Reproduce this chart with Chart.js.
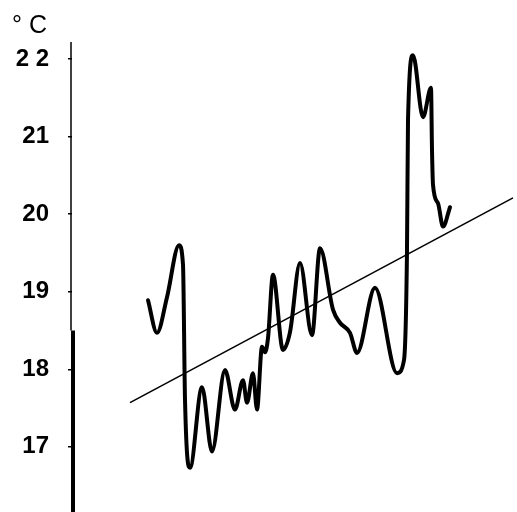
<!DOCTYPE html>
<html>
<head>
<meta charset="utf-8">
<script src="https://cdn.jsdelivr.net/npm/chart.js@4"></script>
<style>
  html, body { margin: 0; padding: 0; background: #fff; }
</style>
</head>
<body>
<canvas id="tempChart" width="517" height="512"></canvas>
<script>
// time along the record (arbitrary units) and temperature in °C
const timeSteps = [
  76, 85, 95, 107, 111, 113, 118, 130, 140, 153, 163, 171, 175, 181, 185,
  190, 193, 196, 201, 211, 218, 228, 240, 248, 261, 268, 278, 285, 303,
  325, 332, 335, 336, 341, 351, 359, 360, 361, 366, 371, 378,
];
const temps = [
  18.89, 18.47, 18.93, 19.6, 19.35, 17.61, 16.73, 17.77, 16.94, 17.99, 17.48,
  17.86, 17.57, 17.95, 17.48, 18.29, 18.22, 18.4, 19.22, 18.25, 18.48, 19.37,
  18.44, 19.56, 18.77, 18.6, 18.47, 18.21, 19.05, 17.95, 18.12, 19.54, 21.21,
  22.05, 21.25, 21.63, 20.83, 20.38, 20.14, 19.84, 20.09,
];

// linear trend
const trendTime = [58, 441];
const trendTemp = [17.57, 20.21];

const tickValues = [17, 18, 19, 20, 21, 22];
const tickLabels = ["17", "18", "19", "20", "21", "2 2"];

// the lower part of the axis is drawn heavier
const axisBreak = 18.5;

const axisLine = {
  id: "axisLine",
  afterDraw(chart) {
    const { ctx, chartArea, scales } = chart;
    const yBreak = scales.y.getPixelForValue(axisBreak);
    ctx.save();
    ctx.strokeStyle = "#000";
    ctx.lineWidth = 1.5;
    ctx.beginPath();
    ctx.moveTo(chartArea.left - 1, chartArea.top);
    ctx.lineTo(chartArea.left - 1, yBreak);
    ctx.stroke();
    ctx.lineWidth = 4;
    ctx.beginPath();
    ctx.moveTo(chartArea.left + 1, yBreak);
    ctx.lineTo(chartArea.left + 1, chartArea.bottom);
    ctx.stroke();
    ctx.restore();
  },
};

new Chart(document.getElementById("tempChart"), {
  type: "line",
  data: {
    datasets: [
      {
        label: "Temperature",
        data: timeSteps.map((t, i) => ({ x: t, y: temps[i] })),
        borderColor: "#000",
        borderWidth: 4,
        borderCapStyle: "round",
        borderJoinStyle: "round",
        cubicInterpolationMode: "monotone",
        pointRadius: 0,
      },
      {
        label: "Trend",
        data: trendTime.map((t, i) => ({ x: t, y: trendTemp[i] })),
        borderColor: "#000",
        borderWidth: 1.6,
        pointRadius: 0,
      },
    ],
  },
  options: {
    responsive: false,
    animation: false,
    devicePixelRatio: 1,
    layout: { padding: { left: 12 } },
    plugins: {
      legend: { display: false },
      tooltip: { enabled: false },
      title: {
        display: true,
        text: "° C",
        align: "start",
        color: "#000",
        font: { family: "Liberation Sans", size: 25, weight: "normal" },
        padding: { top: 11, bottom: 1 },
      },
    },
    scales: {
      x: {
        type: "linear",
        display: false,
        min: 0,
        max: 445,
      },
      y: {
        min: 16.16,
        max: 22.22,
        afterFit: (scale) => {
          scale.width = 60;
          // labels sit well inside the plot height, no extra room needed
          scale.paddingTop = 0;
          scale.paddingBottom = 0;
        },
        afterBuildTicks: (scale) => {
          scale.ticks = tickValues.map((v) => ({ value: v }));
        },
        border: { display: false },
        grid: {
          drawOnChartArea: false,
          tickLength: 4,
          tickColor: "#000",
          lineWidth: 1.5,
        },
        ticks: {
          color: "#000",
          padding: 19,
          font: { family: "Liberation Sans", size: 24, weight: "bold" },
          callback: (value) => tickLabels[tickValues.indexOf(value)],
        },
      },
    },
  },
  plugins: [axisLine],
});
</script>
</body>
</html>
